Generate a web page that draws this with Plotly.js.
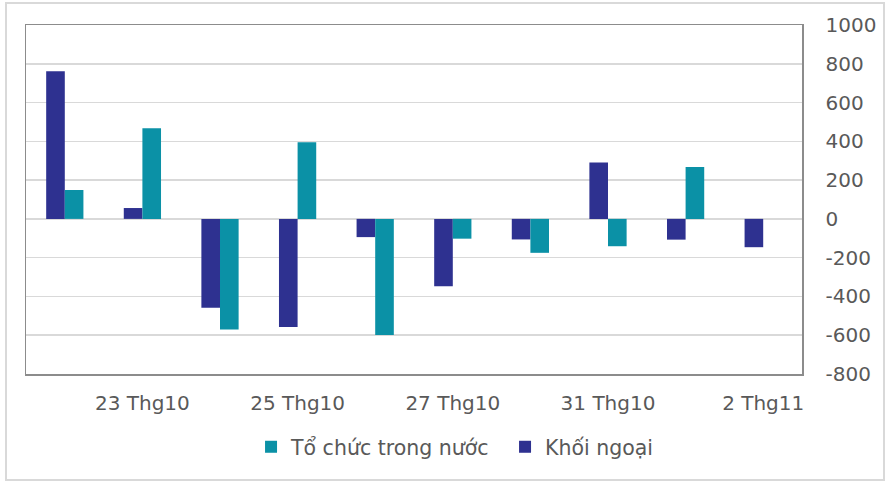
<!DOCTYPE html>
<html>
<head>
<meta charset="utf-8">
<script src="https://cdn.plot.ly/plotly-3.0.1.min.js"></script>
<style>
  html, body { margin: 0; padding: 0; background: #fff; }
  #wrap { position: relative; width: 895px; height: 487px; }
  #chart { width: 895px; height: 487px; }
  #frame { position: absolute; left: 5px; top: 2px; width: 880px; height: 479px;
           border: 2px solid #d9d9d9; pointer-events: none; box-sizing: border-box; }
</style>
</head>
<body>
<div id="wrap">
  <div id="chart"></div>
  <div id="frame"></div>
</div>
<script>
const categories = ["22 Thg10", "23 Thg10", "24 Thg10", "25 Thg10", "26 Thg10",
                    "27 Thg10", "30 Thg10", "31 Thg10", "1 Thg11", "2 Thg11"];
const tickLabels = ["23 Thg10", "25 Thg10", "27 Thg10", "31 Thg10", "2 Thg11"];
const khoiNgoai = [762, 56, -458, -557, -94, -347, -106, 291, -107, -146];
const toChucTrongNuoc = [149, 468, -571, 395, -599, -102, -175, -141, 268, null];
const yTicks = [-800, -600, -400, -200, 0, 200, 400, 600, 800, 1000];
const yTickText = ["-800", "-600", "-400", "-200", "0", "200", "400", "600", "800", "1000"];

const fontFamily = "'DejaVu Sans', Verdana, sans-serif";
const textColor = "#595959";

const traces = [
  { type: "bar", name: "Khối ngoại", x: categories, y: khoiNgoai,
    marker: { color: "#2E3190" } },
  { type: "bar", name: "Tổ chức trong nước", x: categories, y: toChucTrongNuoc,
    marker: { color: "#0B91A6" } }
];

const layout = {
  width: 895, height: 487,
  margin: { l: 26, r: 93, t: 25, b: 113 },
  paper_bgcolor: "#ffffff", plot_bgcolor: "#ffffff",
  barmode: "group", bargap: 0.52, bargroupgap: 0,
  font: { family: fontFamily, size: 20, color: textColor },
  showlegend: true,
  legend: { orientation: "h", traceorder: "reversed", x: 0.29, xanchor: "left",
            y: -0.209, yanchor: "middle", font: { size: 20.5, color: textColor },
            itemwidth: 30, entrywidth: 209 },
  xaxis: { type: "category", tickmode: "array", tickvals: tickLabels, ticktext: tickLabels,
           showgrid: false, showline: true, mirror: true, linecolor: "#8c8c8c", linewidth: 1.5,
           ticks: "", ticklabelstandoff: 10, tickfont: { size: 20, color: textColor } },
  yaxis: { side: "right", range: [-800, 1000], tickmode: "array", tickvals: yTicks,
           ticktext: yTickText,
           showgrid: true, gridcolor: "#d9d9d9", gridwidth: 1.5,
           zeroline: true, zerolinecolor: "#d9d9d9", zerolinewidth: 1.5,
           showline: true, mirror: true, linecolor: "#8c8c8c", linewidth: 1.5,
           ticks: "", ticklabelstandoff: 18, tickfont: { size: 20, color: textColor } }
};

Plotly.newPlot("chart", traces, layout, { displayModeBar: false, staticPlot: true });
</script>
</body>
</html>
